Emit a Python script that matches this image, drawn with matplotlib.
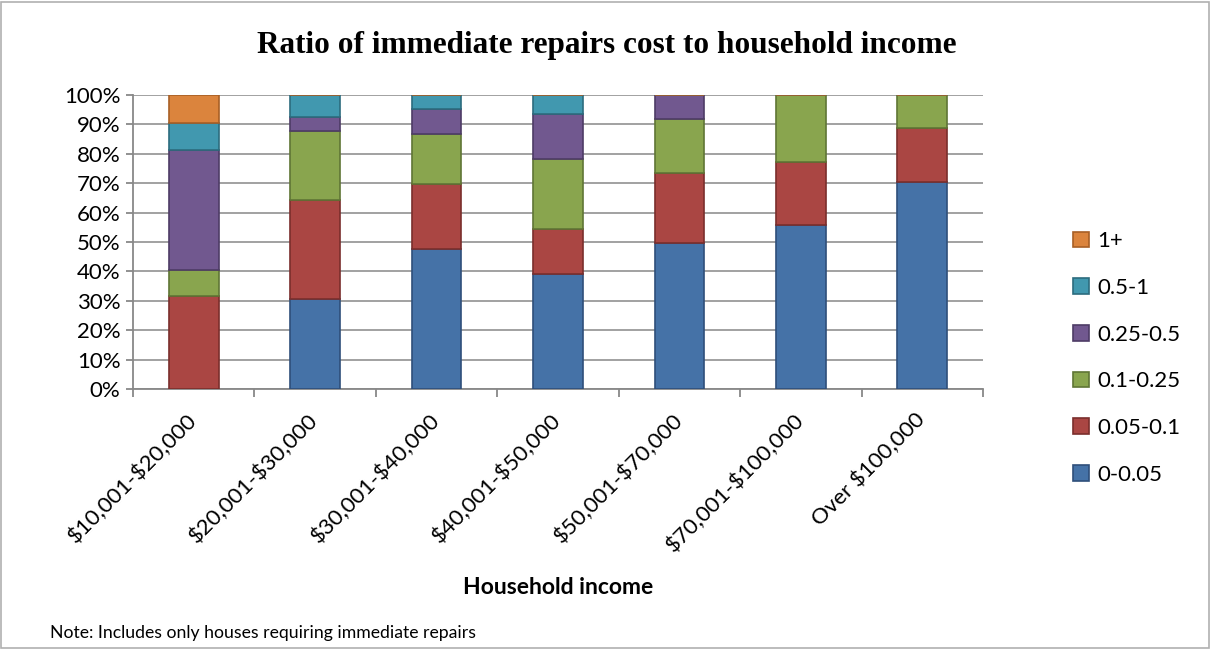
import matplotlib.pyplot as plt
import matplotlib.patches as mpatches
import numpy as np

plt.rcParams['text.parse_math'] = False
plt.rcParams['font.family'] = ['Lato', 'DejaVu Sans']

categories = ["$10,001-$20,000", "$20,001-$30,000", "$30,001-$40,000", "$40,001-$50,000",
              "$50,001-$70,000", "$70,001-$100,000", "Over $100,000"]
series_names = ["0-0.05", "0.05-0.1", "0.1-0.25", "0.25-0.5", "0.5-1", "1+"]
s_0_005 = [0.0, 30.6, 47.6, 39.1, 49.8, 55.8, 70.5]
s_005_01 = [31.7, 33.7, 22.0, 15.2, 23.5, 21.5, 18.2]
s_01_025 = [8.8, 23.6, 17.0, 23.8, 18.5, 22.7, 11.3]
s_025_05 = [40.8, 4.5, 8.6, 15.3, 8.2, 0.0, 0.0]
s_05_1 = [9.1, 7.6, 4.8, 6.6, 0.0, 0.0, 0.0]
s_1plus = [9.6, 0.0, 0.0, 0.0, 0.0, 0.0, 0.0]
yticks = [0, 10, 20, 30, 40, 50, 60, 70, 80, 90, 100]

colors = ["#4572A7", "#AA4643", "#89A54E", "#71588F", "#4198AF", "#DB843D"]
edges = ["#2F4F7A", "#7A2E2C", "#5F7535", "#4E3C66", "#2C6C7E", "#A85F25"]

fig = plt.figure(figsize=(12.14, 6.49), dpi=100)
ax = fig.add_axes([133/1214, 1-389/649, 850/1214, 294/649])

data = [s_0_005, s_005_01, s_01_025, s_025_05, s_05_1, s_1plus]
x = np.arange(len(categories))
bottom = np.zeros(len(categories))
handles = []
for vals, name, c, e in zip(data, series_names, colors, edges):
    v = np.array(vals)
    b = ax.bar(x, v, 0.41, bottom=bottom, color=c, edgecolor=e, linewidth=1.2, label=name, zorder=3)
    handles.append(b)
    bottom += v

ax.set_xlim(-0.5, len(categories) - 0.5)
ax.set_ylim(0, 100)
ax.set_yticks(yticks)
ax.set_yticklabels([f"{t}%" for t in yticks], fontsize=16)
ax.yaxis.grid(True, color="#9a9a9a", linewidth=1.3, zorder=0)
ax.set_axisbelow(True)
for sp in ["top", "right"]:
    ax.spines[sp].set_visible(False)
ax.spines["left"].set_color("#888888")
ax.spines["bottom"].set_color("#888888")
ax.spines["left"].set_linewidth(1.3)
ax.spines["bottom"].set_linewidth(1.3)
ax.tick_params(axis="y", length=5, color="#888888", width=1.3, pad=4)

ax.set_xticks(x)
ax.set_xticklabels(categories, rotation=45, ha="right", va="center", rotation_mode="anchor", fontsize=16)
ax.tick_params(axis="x", length=0, pad=20)
ax.set_xticks(np.arange(-0.5, len(categories), 1), minor=True)
ax.tick_params(axis="x", which="minor", length=6, color="#888888", width=1.3)

fig.text(558/1214, 1-588/649, "Household income", ha="center", va="center",
         fontsize=16.5, fontweight="bold")
fig.text(0.5, 1-45/649, "Ratio of immediate repairs cost to household income",
         ha="center", va="center", fontsize=22.5, fontweight="bold", family="Liberation Serif")

leg = fig.legend(handles[::-1], series_names[::-1], loc="center left",
                 bbox_to_anchor=(1053/1214, 1-358/649), frameon=False, fontsize=16,
                 labelspacing=1.2, handlelength=0.7, handleheight=0.7, handletextpad=0.4)

fig.text(50/1214, 1-633/649, "Note: Includes only houses requiring immediate repairs",
         fontsize=12.7, va="center", ha="left")

fig.patches.append(mpatches.Rectangle((1/1214, 1/649), 1208/1214, 646/649, transform=fig.transFigure,
                                      fill=False, edgecolor="#b0b0b0", linewidth=1.2))

fig.savefig("out.png", dpi=100)
